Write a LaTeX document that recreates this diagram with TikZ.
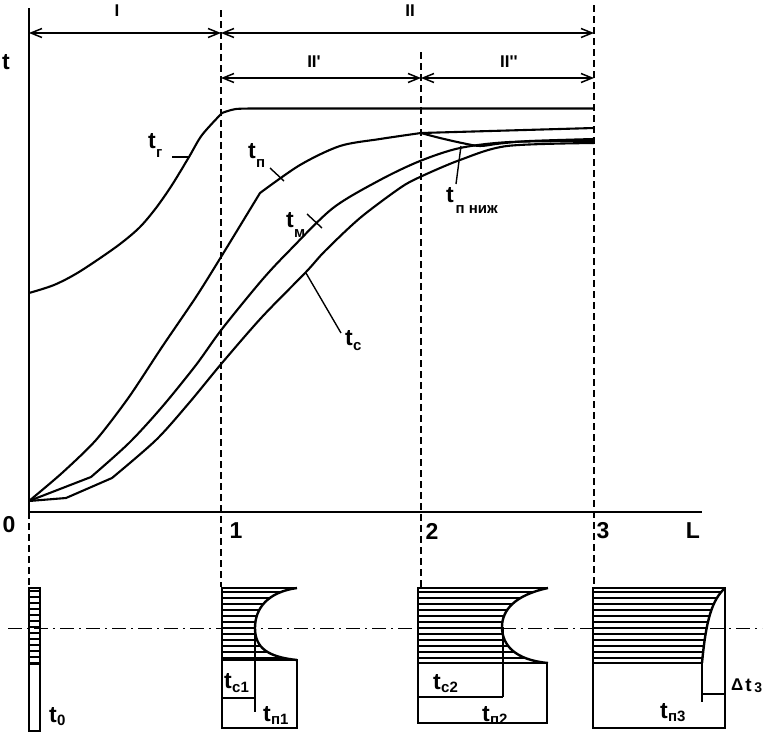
\documentclass[tikz,border=0pt]{standalone}
\usepackage{fontspec}
\setmainfont{Liberation Sans}
\usetikzlibrary{arrows.meta}
\newcommand\bigsz{\fontsize{23}{26}\selectfont\bfseries}
\newcommand\romsz{\fontsize{17}{20}\selectfont\bfseries}
\newcommand\subsz{\fontsize{15}{17}\selectfont\bfseries}
% \tlab{drop}{subscript}
\newcommand\tlab[2]{t\kern0.3pt\raisebox{-#1pt}{\subsz #2}}
\begin{document}
\begin{tikzpicture}[x=1pt,y=-1pt,
  axisline/.style={line width=2.8pt},
  curveline/.style={line width=2.1pt,line join=round},
  dimline/.style={line width=1.8pt,{Straight Barb[length=11pt,width=9pt,line width=1.5pt]}-{Straight Barb[length=11pt,width=9pt,line width=1.5pt]}},
  guide/.style={line width=1.1pt,dash pattern=on 7pt off 4pt},
  centre/.style={line width=1pt,dash pattern=on 14pt off 5pt on 2pt off 5pt},
  boxline/.style={line width=2.4pt},
  thinbox/.style={line width=1.2pt},
  hatchline/.style={line width=1.3pt},
  leader/.style={line width=1.4pt},
  big/.style={font=\bigsz,inner sep=0pt},
  rom/.style={font=\romsz,inner sep=0pt},
  clab/.style={font=\bigsz,inner sep=0pt,anchor=base west}]
\useasboundingbox (0,0) rectangle (769,734);

% guides
\draw[guide] (29,512) -- (29,587);
\draw[guide] (221,10) -- (221,587);
\draw[guide] (421,52) -- (421,587);
\draw[guide] (594,5) -- (594,587);
\draw[centre] (8,628) -- (762,628);

% axes
\coordinate (O) at (29,512);
\coordinate (ytop) at (29,8);
\coordinate (xend) at (702,512);
\draw[axisline] (ytop) -- (O) -- (xend);

% dimension arrows
\coordinate (a0) at (29,33); \coordinate (a1) at (221,33); \coordinate (a3) at (594,33);
\coordinate (b1) at (221,78); \coordinate (b2) at (421,78); \coordinate (b3) at (594,78);
\draw[dimline] (a0) -- (a1);
\draw[dimline] (a1) -- (a3);
\draw[dimline] (b1) -- (b2);
\draw[dimline] (b2) -- (b3);
\node[rom] (nI) at (117,11) {I};
\node[rom] (nII) at (410,11) {II};
\node[rom] (nII1) at (314,62) {II\textquotesingle};
\node[rom] (nII2) at (509,62) {II\textquotesingle\textquotesingle};

% axis labels
\node[big] (tax) at (6,62) {t};
\node[big] (n0) at (9,525) {0};
\node[big] (n1) at (236,531) {1};
\node[big] (n2) at (432,531) {2};
\node[big] (n3) at (603,531) {3};
\node[big] (nL) at (693,531) {L};

% curves
% t_g
\draw[curveline] plot[smooth,tension=0.5] coordinates {(29,293) (54,285) (79,272) (116,247) (139,228) (156,208) (172,185) (189,157) (202,135) (222,113)}
  -- plot[smooth,tension=0.5] coordinates {(222,113) (236,109) (260,108.5)} -- (594,108.5);
% t_p
\draw[curveline] (29,501) -- plot[smooth,tension=0.45] coordinates {(29,501) (62,473) (96,440) (129,397) (162,347) (196,297) (221,257) (260,193)}
  -- plot[smooth,tension=0.5] coordinates {(260,193) (300,165) (340,146) (380,139) (421,133)} -- (594,128);
% t_p lower
\draw[curveline] plot[smooth,tension=0.5] coordinates {(421,133) (440,138) (462,143) (480,146) (500,143.5) (530,141) (594,139)};
% t_m
\draw[curveline] (29,501) -- (91,477) -- plot[smooth,tension=0.5] coordinates {(91,477) (129,443) (162,407) (196,365) (222,329) (262,280) (290,250) (333,208) (380,180) (420,161) (460,148) (510,142) (594,141)};
% t_c
\draw[curveline] (29,501) -- (66,498) -- (112,478) -- plot[smooth,tension=0.5] coordinates {(112,478) (156,440) (189,403) (222,363) (262,317) (306,272) (325,251) (360,218) (400,188) (420,177) (460,160) (507,146) (594,143)};

% curve labels
\node[clab] (lg) at (148,148) {\tlab{9}{г}};
\coordinate (lgA) at (172,157); \coordinate (lgB) at (190,157);
\draw[leader] (lgA) -- (lgB);
\node[clab] (lp) at (248,158) {\tlab{9}{п}};
\coordinate (lpA) at (270,168); \coordinate (lpB) at (284,181);
\draw[leader] (lpA) -- (lpB);
\node[clab] (lm) at (286,227) {\tlab{10}{м}};
\coordinate (lmA) at (307,214); \coordinate (lmB) at (322,228);
\draw[leader] (lmA) -- (lmB);
\node[clab] (lc) at (345,345) {\tlab{5}{c}};
\coordinate (lcA) at (341,333); \coordinate (lcB) at (306,273);
\draw[leader] (lcA) -- (lcB);
\node[clab] (ln) at (446,202) {\tlab{11}{\kern1.5pt п ниж}};
\coordinate (lnA) at (456,184); \coordinate (lnB) at (461,146);
\draw[leader] (lnA) -- (lnB);

% ---- box 0
\begin{scope}
\clip (29,588) rectangle (40,664);
\foreach \yy in {591,597,...,663} \draw[hatchline] (29,\yy) -- (40,\yy);
\end{scope}
\draw[boxline] (29,588) rectangle (40,731);
\draw[boxline] (29,664) -- (40,664);
\node[clab] (t0) at (49,722) {\tlab{3}{0}};

% ---- box 1
\begin{scope}
\clip (222,588) -- (297,588) .. controls (268,592) and (255,608) .. (255,628) .. controls (255,648) and (268,657) .. (297,660) -- (222,660) -- cycle;
\foreach \yy in {592,598,...,660} \draw[hatchline] (222,\yy) -- (297,\yy);
\end{scope}
\draw[boxline] (297,588) -- (222,588) -- (222,728) -- (297,728) -- (297,660) -- (222,660);
\draw[boxline] (297,588) .. controls (268,592) and (255,608) .. (255,628) .. controls (255,648) and (268,657) .. (297,660);
\draw[boxline] (255,628) -- (255,712);
\draw[boxline] (222,698) -- (255,698);
\node[clab] (tc1) at (224,688) {\tlab{4}{c1}};
\node[clab] (tp1) at (263,721) {\tlab{3}{п1}};

% ---- box 2
\begin{scope}
\clip (418,588) -- (548,588) .. controls (515,595) and (502,610) .. (502,627) .. controls (502,645) and (515,660) .. (548,663) -- (418,663) -- cycle;
\foreach \yy in {592,598,...,663} \draw[hatchline] (418,\yy) -- (548,\yy);
\end{scope}
\draw[boxline] (548,588) -- (418,588) -- (418,723) -- (547,723) -- (547,663) -- (418,663);
\draw[boxline] (548,588) .. controls (515,595) and (502,610) .. (502,627) .. controls (502,645) and (515,660) .. (548,663);
\draw[thinbox] (503,627) -- (503,697);
\draw[boxline] (418,697) -- (503,697);
\node[clab] (tc2) at (433,689) {\tlab{3}{c2}};
\node[clab] (tp2) at (482,721) {\tlab{3}{п2}};

% ---- box 3
\begin{scope}
\clip (593,588) -- (725,588) .. controls (712,600) and (706,620) .. (702,663) -- (593,663) -- cycle;
\foreach \yy in {592,598,...,663} \draw[hatchline] (593,\yy) -- (725,\yy);
\end{scope}
\draw[boxline] (593,663) -- (593,588) -- (725,588) -- (725,728) -- (593,728) -- (593,663) -- (702,663) -- (702,702);
\draw[boxline] (725,588) .. controls (712,600) and (706,620) .. (702,663);
\draw[boxline] (702,694) -- (725,694);
\node[clab] (tp3) at (660,718) {\tlab{3}{п3}};
\node[font=\fontsize{19}{22}\selectfont\bfseries,inner sep=0pt,anchor=base west] (dt3) at (731,691) {\raisebox{0.5pt}{\fontsize{17}{18}\selectfont Δ}\kern2pt t\kern2.5pt\raisebox{-1pt}{\fontsize{14}{16}\selectfont 3}};
\end{tikzpicture}
\end{document}
